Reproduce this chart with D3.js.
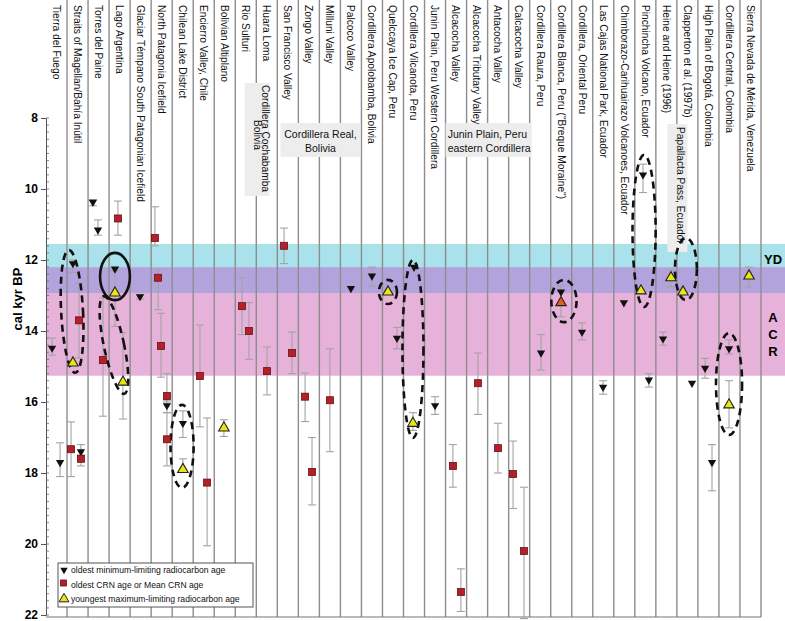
<!DOCTYPE html>
<html>
<head>
<meta charset="utf-8">
<script src="https://cdn.jsdelivr.net/npm/d3@7"></script>
<style>
  body { margin: 0; background: #fff; }
  svg { font-family: "Liberation Sans", Arial, sans-serif; }
  .site { font-size: 10.2px; fill: #111; }
  .tick text { font-size: 12px; font-weight: bold; }
</style>
</head>
<body>
<div id="chart"></div>
<script>
var svgWidth = 785;
var svgHeight = 621;

// column labels, south to north
var sites = [
  "Tierra del Fuego", "Straits of Magellan/Bahía Inútil", "Torres del Paine", "Lago Argentina",
  "Glaciar Témpano South Patagonian Icefield", "North Patagonia Icefield", "Chilean Lake District",
  "Encierro Valley, Chile", "Bolivian Altiplano", "Rio Sulturi", "Huara Loma", "San Francisco Valley",
  "Zongo Valley", "Milluni Valley", "Palcoco Valley", "Cordillera Apolobamba, Bolivia",
  "Quelccaya Ice Cap, Peru", "Cordillera Vilcanota, Peru", "Junin Plain, Peru Western Cordillera",
  "Alcacocha Valley", "Alcacocha Tributary Valley", "Antacocha Valley", "Calcacocha Valley",
  "Cordillera Raura, Peru", "Cordillera Blanca, Peru (\"Breque Moraine\")", "Cordillera, Oriental Peru",
  "Las Cajas National Park, Ecuador", "Chimborazo-Carihuairazo Volcanoes, Ecuador",
  "Pinchincha Volcano, Ecuador", "Heine and Heine (1996)", "Clapperton et al. (1997b)",
  "High Plain of Bogotá, Colombia", "Cordillera Central, Colombia", "Sierra Nevada de Mérida, Venezuela"
];

var yTicks = [8, 10, 12, 14, 16, 18, 20, 22];

// [column position, age, low, high]  (kyr BP)
var minC14 = [
  [0.29, 14.48, 14.2, 14.68], [0.67, 17.7, 17.15, 18.1], [1.28, 12.1, 12.0, 12.35],
  [1.66, 17.4, 17.2, 17.5], [2.23, 10.37, 10.3, 10.47], [2.47, 11.15, 10.87, 11.3],
  [3.28, 12.25, null, null], [4.47, 13.03, 12.98, 13.1], [5.75, 16.1, 15.95, 16.3],
  [6.51, 16.6, 16.25, 17.0], [14.5, 12.8, null, null], [15.5, 12.45, 12.2, 12.73],
  [17.5, 12.2, null, null], [16.69, 14.2, 13.9, 14.5], [18.5, 16.1, 15.85, 16.35],
  [23.54, 14.62, 14.1, 15.1], [24.49, 12.9, null, null], [25.49, 14.03, 13.77, 14.25],
  [26.49, 15.58, 15.4, 15.78], [27.48, 13.2, null, null], [28.39, 9.6, 9.3, 10.1],
  [28.67, 15.38, 15.2, 15.58], [29.34, 14.22, 14.03, 14.4], [30.72, 15.47, null, null],
  [31.34, 15.05, 14.77, 15.33], [31.67, 17.7, 17.2, 18.5], [32.48, 14.5, 14.25, 14.65]
];

var crn = [
  [1.57, 13.7, 12.65, 14.76], [1.19, 17.33, 16.56, 18.1], [1.66, 17.6, 17.5, 17.8],
  [2.71, 14.82, 13.07, 16.4], [3.42, 10.83, 10.34, 11.3], [5.18, 11.38, 10.5, 11.6],
  [5.33, 12.5, 12.28, 13.4], [5.47, 14.42, 13.5, 15.3], [5.75, 15.83, 15.2, 16.0],
  [5.75, 17.05, 16.3, 17.8], [7.32, 15.27, 13.83, 16.7], [7.66, 18.27, 16.45, 20.05],
  [9.32, 13.3, 12.5, 14.1], [9.65, 14.0, 13.2, 14.8], [10.51, 15.13, 14.45, 15.8],
  [11.32, 11.6, 11.1, 12.1], [11.7, 14.62, 14.03, 15.2], [12.32, 15.85, 15.18, 16.55],
  [12.65, 17.97, 17.0, 18.9], [13.5, 15.95, 14.5, 17.4], [19.35, 17.8, 17.2, 18.4],
  [19.73, 21.35, 20.7, 21.9], [20.54, 15.47, 14.62, 16.35], [21.49, 17.3, 16.6, 18.0],
  [22.21, 18.03, 17.1, 19.0], [22.73, 20.2, 18.4, 22.1]
];

var maxC14 = [
  [1.28, 14.9, null, null], [3.28, 12.93, 12.3, 13.87], [3.66, 15.44, 14.05, 16.48],
  [6.51, 17.9, 17.6, 17.95], [8.46, 16.73, 16.5, 16.97], [16.26, 12.9, null, null],
  [17.45, 16.6, 16.3, 16.8], [28.29, 12.87, null, null], [29.72, 12.5, 12.28, 12.76],
  [30.29, 12.9, null, null], [32.48, 16.08, 15.4, 16.73], [33.43, 12.45, 12.2, 12.76]
];

// Breque moraine maximum age
var brequeMax = [[24.49, 13.2, 12.73, 13.6]];

// climate bands [from, to]
var ydBand = [11.55, 12.2];
var overlapBand = [12.2, 12.93];
var acrBand = [12.93, 15.26];

// grouped site boxes
var groupRows = [
  ["Cordillera Real,", "Bolivia"],
  ["Junin Plain, Peru", "eastern Cordillera"]
];

// circled groups: [column, top age, bottom age, half width (cols), rotation, dashed]
var circles = [
  [1.24, 11.72, 15.18, 0.52, -3, true],
  [3.28, 11.8, 13.13, 0.71, 0, false],
  [3.23, 12.99, 15.8, 0.48, -12, true],
  [6.47, 16.08, 18.42, 0.55, 0, true],
  [16.26, 12.56, 13.24, 0.43, 0, true],
  [17.45, 12.0, 17.01, 0.5, 0, true],
  [24.63, 12.56, 13.75, 0.6, 0, true],
  [28.44, 9.04, 13.32, 0.55, 0, true],
  [30.43, 11.38, 13.13, 0.52, 0, true],
  [32.48, 14.06, 16.93, 0.62, 0, true]
];

var legendItems = [
  "oldest minimum-limiting radiocarbon age",
  "oldest CRN age or Mean CRN age",
  "youngest maximum-limiting radiocarbon age"
];

var svg = d3.select("#chart").append("svg")
  .attr("width", svgWidth)
  .attr("height", svgHeight);

var x = d3.scaleLinear().domain([0, sites.length]).range([46, 761]);
var y = d3.scaleLinear().domain([8, 22]).range([118, 615]);

// bands
[[ydBand, "#a9e2ea"], [overlapBand, "#b3a3dc"], [acrBand, "#e7b2d9"]].forEach(function(b) {
  svg.append("rect")
    .attr("x", x(0)).attr("width", svgWidth - x(0))
    .attr("y", y(b[0][0])).attr("height", y(b[0][1]) - y(b[0][0]))
    .attr("fill", b[1]);
});

// column separators
svg.append("g").selectAll("line")
  .data(d3.range(1, sites.length + 1))
  .enter().append("line")
  .attr("x1", d => x(d)).attr("x2", d => x(d))
  .attr("y1", 0).attr("y2", y(22) + 2)
  .attr("stroke", "#8d8d8d").attr("stroke-width", 1.4);

svg.append("line")
  .attr("x1", x(0)).attr("x2", x(sites.length))
  .attr("y1", y(22) + 2).attr("y2", y(22) + 2)
  .attr("stroke", "#777").attr("stroke-width", 1.2);

// group boxes
var boxes = [
  { x0: 9.45, x1: 10.62, y0: 83, y1: 196 },
  { x0: 11.15, x1: 14.95, y0: 123, y1: 157 },
  { x0: 19.0, x1: 23.1, y0: 123, y1: 157 },
  { x0: 29.55, x1: 30.5, y0: 124, y1: 252 }
];
boxes.forEach(function(b) {
  svg.append("rect")
    .attr("x", x(b.x0)).attr("width", x(b.x1) - x(b.x0))
    .attr("y", b.y0).attr("height", b.y1 - b.y0)
    .attr("fill", "#ededed");
});

// site labels
svg.append("g").selectAll("text")
  .data(sites)
  .enter().append("text")
  .attr("class", "site")
  .attr("transform", (d, i) => `translate(${x(i + 0.5)}, 5) rotate(90)`)
  .attr("dy", "0.36em")
  .text(d => d);

// rotated group labels
svg.append("text").attr("class", "site")
  .attr("transform", `translate(${x(10.0) + 9}, 85) rotate(90)`)
  .attr("dy", "0.36em")
  .text("Cordillera Cochabamba");
svg.append("text").attr("class", "site")
  .attr("transform", `translate(${x(10.0) + 1}, 120) rotate(90)`)
  .attr("dy", "0.36em")
  .text("Bolivia");
svg.append("text").attr("class", "site")
  .attr("transform", `translate(${x(30.0) + 4}, 127) rotate(90)`)
  .attr("dy", "0.36em")
  .text("Papallacta Pass, Ecuador");

svg.append("text").attr("class", "site").style("font-size", "10.5px")
  .attr("x", x(13.05)).attr("y", 138).attr("text-anchor", "middle").text(groupRows[0][0]);
svg.append("text").attr("class", "site").style("font-size", "10.5px")
  .attr("x", x(13.05)).attr("y", 152).attr("text-anchor", "middle").text(groupRows[0][1]);
svg.append("text").attr("class", "site").style("font-size", "10.5px")
  .attr("x", x(19.1)).attr("y", 138).text(groupRows[1][0]);
svg.append("text").attr("class", "site").style("font-size", "10.5px")
  .attr("x", x(19.1)).attr("y", 152).text(groupRows[1][1]);

// y axis
var axisG = svg.append("g").attr("transform", `translate(${x(0)},0)`);
axisG.call(d3.axisLeft(y).tickValues(yTicks).tickSize(5).tickFormat(d3.format("d")));
axisG.select(".domain").attr("stroke", "#555");
axisG.selectAll(".tick line").attr("stroke", "#555");
axisG.selectAll(".tick text").attr("x", -8);
axisG.append("g").selectAll("line")
  .data(d3.range(8, 22.01, 0.2))
  .enter().append("line")
  .attr("x1", 0).attr("x2", 3)
  .attr("y1", d => y(d)).attr("y2", d => y(d))
  .attr("stroke", "#666").attr("stroke-width", 0.8);

svg.append("text")
  .attr("transform", `translate(22, ${y(13.1)}) rotate(-90)`)
  .attr("text-anchor", "middle")
  .style("font-size", "13px").style("font-weight", "bold")
  .text("cal kyr BP");

// band labels
svg.append("text").attr("x", 773).attr("y", y(12.1)).attr("text-anchor", "middle")
  .style("font-size", "13px").style("font-weight", "bold").text("YD");
["A", "C", "R"].forEach(function(c, i) {
  svg.append("text").attr("x", 773).attr("y", y(13.75 + i * 0.48)).attr("text-anchor", "middle")
    .style("font-size", "13px").style("font-weight", "bold").text(c);
});

// error bars
var allPoints = minC14.concat(crn, maxC14, brequeMax).filter(d => d[2] != null);
var eb = svg.append("g").attr("stroke", "#a3a3a3").attr("stroke-width", 1.1);
allPoints.forEach(function(d) {
  var cx = x(d[0]);
  eb.append("line").attr("x1", cx).attr("x2", cx).attr("y1", y(d[2])).attr("y2", y(d[3]));
  eb.append("line").attr("x1", cx - 4).attr("x2", cx + 4).attr("y1", y(d[2])).attr("y2", y(d[2]));
  eb.append("line").attr("x1", cx - 4).attr("x2", cx + 4).attr("y1", y(d[3])).attr("y2", y(d[3]));
});

// circled groups
svg.append("g").selectAll("ellipse")
  .data(circles)
  .enter().append("ellipse")
  .attr("transform", d => `translate(${x(d[0])}, ${(y(d[1]) + y(d[2])) / 2}) rotate(${d[4]})`)
  .attr("rx", d => x(d[3]) - x(0))
  .attr("ry", d => (y(d[2]) - y(d[1])) / 2)
  .attr("fill", "none").attr("stroke", "#111")
  .attr("stroke-width", 2.6)
  .attr("stroke-dasharray", d => d[5] ? "7,5" : null);

// markers
var tri = d3.symbol().type(d3.symbolTriangle);
svg.append("g").selectAll("path")
  .data(minC14).enter().append("path")
  .attr("d", tri.size(30)())
  .attr("transform", d => `translate(${x(d[0])}, ${y(d[1])}) rotate(180)`)
  .attr("fill", "#111");

svg.append("g").selectAll("rect")
  .data(crn).enter().append("rect")
  .attr("x", d => x(d[0]) - 3.5).attr("y", d => y(d[1]) - 3.5)
  .attr("width", 7).attr("height", 7)
  .attr("fill", "#b3202a").attr("stroke", "#6a1015").attr("stroke-width", 0.8);

svg.append("g").selectAll("path")
  .data(maxC14).enter().append("path")
  .attr("d", d3.symbol().type(d3.symbolTriangle).size(48)())
  .attr("transform", d => `translate(${x(d[0])}, ${y(d[1])})`)
  .attr("fill", "#e8e810").attr("stroke", "#222").attr("stroke-width", 1.1);

svg.append("g").selectAll("path")
  .data(brequeMax).enter().append("path")
  .attr("d", d3.symbol().type(d3.symbolTriangle).size(48)())
  .attr("transform", d => `translate(${x(d[0])}, ${y(d[1])})`)
  .attr("fill", "#e0601a").attr("stroke", "#222").attr("stroke-width", 1.1);

// legend
var lg = svg.append("g").attr("transform", "translate(58, 563)");
lg.append("rect").attr("width", 195).attr("height", 44)
  .attr("fill", "#fff").attr("stroke", "#555").attr("stroke-width", 1);
lg.append("path").attr("d", tri.size(24)()).attr("transform", "translate(6, 7) rotate(180)").attr("fill", "#111");
lg.append("rect").attr("x", 2.5).attr("y", 17).attr("width", 6).attr("height", 6)
  .attr("fill", "#b3202a").attr("stroke", "#6a1015").attr("stroke-width", 0.8);
lg.append("path").attr("d", d3.symbol().type(d3.symbolTriangle).size(42)())
  .attr("transform", "translate(6, 36)").attr("fill", "#e8e810").attr("stroke", "#222");
lg.selectAll("text.lg")
  .data(legendItems).enter().append("text")
  .attr("x", 13).attr("y", (d, i) => 10 + i * 14.5)
  .style("font-size", "8.6px").attr("fill", "#111")
  .text(d => d);
</script>
</body>
</html>
